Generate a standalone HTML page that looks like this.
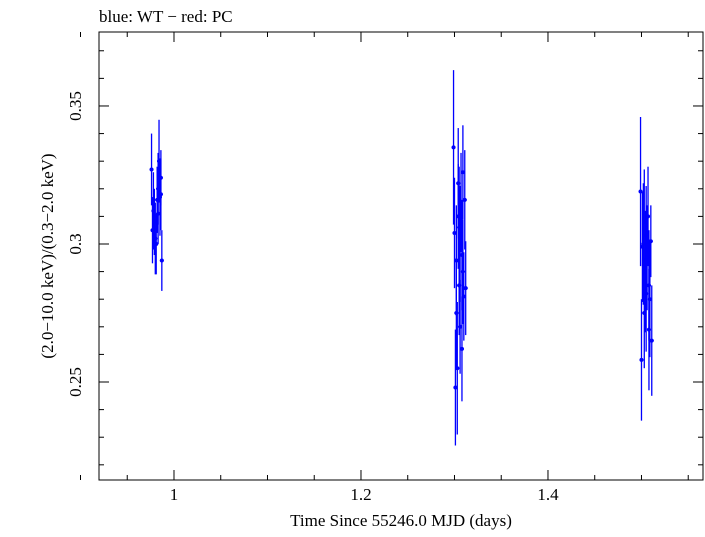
<!DOCTYPE html>
<html><head><meta charset="utf-8"><style>
body{margin:0;background:#fff}
svg text{font-family:"Liberation Serif",serif;font-size:17px;fill:#000}
</style></head><body>
<svg id="c" width="705" height="532">
<text x="99" y="22">blue: WT − red: PC</text>
<rect x="99" y="32" width="604" height="448" fill="none" stroke="#000" stroke-width="1"/>
<g id="ticks"></g>
<g id="marks"></g>
<text x="401" y="526" text-anchor="middle">Time Since 55246.0 MJD (days)</text>
<text transform="translate(53,256) rotate(-90)" text-anchor="middle">(2.0−10.0 keV)/(0.3−2.0 keV)</text>
</svg>
<script>
const times=[0.976,0.979,0.981,0.978,0.983,0.984,0.986,0.982,0.985,0.987,0.977,0.980,0.983,0.986,
1.299,1.300,1.301,1.302,1.303,1.304,1.304,1.305,1.306,1.306,1.307,1.308,1.309,1.309,1.310,1.311,1.312,1.305,1.302,1.308,
1.499,1.500,1.501,1.502,1.503,1.504,1.505,1.505,1.506,1.507,1.508,1.508,1.509,1.510,1.511,1.503];
const ratios=[0.327,0.308,0.300,0.312,0.320,0.330,0.324,0.316,0.317,0.294,0.305,0.302,0.311,0.318,
0.335,0.304,0.248,0.294,0.255,0.322,0.310,0.285,0.300,0.270,0.315,0.296,0.326,0.290,0.281,0.316,0.284,0.306,0.275,0.262,
0.319,0.258,0.299,0.300,0.275,0.290,0.303,0.282,0.295,0.310,0.269,0.285,0.280,0.301,0.265,0.308];
const errors=[0.013,0.012,0.011,0.014,0.013,0.015,0.010,0.012,0.014,0.011,0.012,0.013,0.011,0.013,
0.028,0.020,0.021,0.020,0.024,0.020,0.019,0.018,0.021,0.017,0.018,0.020,0.017,0.019,0.016,0.018,0.017,0.022,0.020,0.019,
0.027,0.022,0.020,0.022,0.020,0.022,0.018,0.021,0.019,0.018,0.022,0.020,0.021,0.013,0.020,0.019];
const xTicks=[1,1.2,1.4];
const xTickLabels=["1","1.2","1.4"];
const yTicks=[0.25,0.3,0.35];
const yTickLabels=["0.25","0.3","0.35"];
const X0=99,X1=703,Y0=32,Y1=480;
const xmin=0.9198,xmax=1.5658,ymin=0.2145,ymax=0.3768;
const sx=v=>X0+(v-xmin)/(xmax-xmin)*(X1-X0);
const sy=v=>Y1-(v-ymin)/(ymax-ymin)*(Y1-Y0);
const NS="http://www.w3.org/2000/svg";
function mk(t,a,p){const e=document.createElementNS(NS,t);for(const k in a)e.setAttribute(k,a[k]);p.appendChild(e);return e;}
const tg=document.getElementById('ticks');
for(let v=0.90;v<=1.56;v+=0.05){const x=sx(v);const maj=xTicks.some(t=>Math.abs(t-v)<1e-6);const L=maj?10:5;
const l1=mk('line',{x1:x,x2:x,y1:Y1,y2:Y1-L,stroke:'#000'},tg);


const l2=mk('line',{x1:x,x2:x,y1:Y0,y2:Y0+L,stroke:'#000'},tg);

}
xTicks.forEach((v,i)=>{const t=mk('text',{x:sx(v),y:Y1+20,'text-anchor':'middle'},tg);t.textContent=xTickLabels[i];

});
for(let v=0.22;v<=0.375;v+=0.01){const y=sy(v);const maj=yTicks.some(t=>Math.abs(t-v)<1e-6);const L=maj?10:5;
const l1=mk('line',{x1:X0,x2:X0+L,y1:y,y2:y,stroke:'#000'},tg);


const l2=mk('line',{x1:X1,x2:X1-L,y1:y,y2:y,stroke:'#000'},tg);

}
yTicks.forEach((v,i)=>{const t=mk('text',{transform:`translate(${X0-18},${sy(v)}) rotate(-90)`,'text-anchor':'middle'},tg);t.textContent=yTickLabels[i];

});
const mg=document.getElementById('marks');
times.forEach((t,i)=>{const x=sx(t),y=sy(ratios[i]);
const g=mk('g',{},mg);


mk('line',{x1:x,x2:x,y1:sy(ratios[i]+errors[i]),y2:sy(ratios[i]-errors[i]),stroke:'#0000ff','stroke-width':1.3},g);
mk('line',{x1:x-2,x2:x+2,y1:y,y2:y,stroke:'#0000ff','stroke-width':1.3},g);
mk('circle',{cx:x,cy:y,r:2,fill:'#0000ff'},g);});
</script>
</body></html>
